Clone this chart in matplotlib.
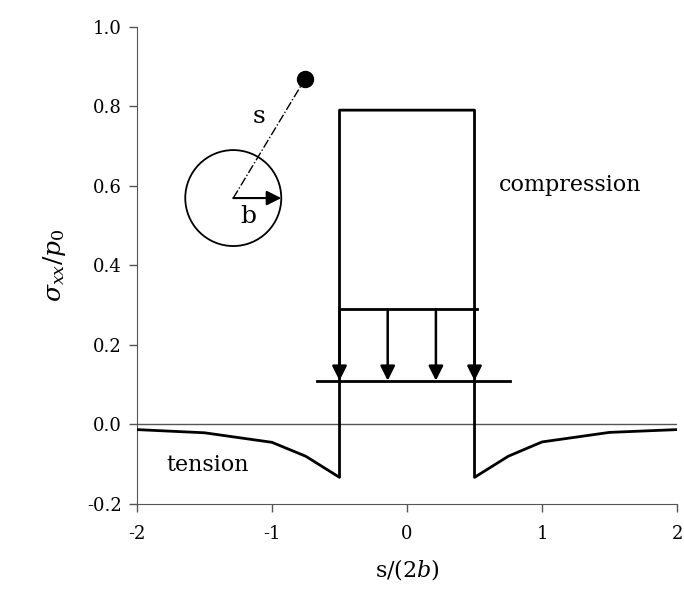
import numpy as np
import matplotlib
matplotlib.use('Agg')
import matplotlib.pyplot as plt
from matplotlib.patches import Ellipse

plt.rcParams['font.family'] = 'DejaVu Serif'
plt.rcParams['mathtext.fontset'] = 'dejavuserif'
plt.rcParams['axes.unicode_minus'] = False

# stress profile sigma_xx/p0 vs s/(2b)
s_norm = [-2, -1.5, -1.0, -0.75, -0.5, -0.5, 0.5, 0.5, 0.75, 1.0, 1.5, 2]
sigma = [-0.013, -0.021, -0.045, -0.080, -0.133, 0.79, 0.79, -0.133, -0.080, -0.044, -0.020, -0.013]

# load sketch
load_top = 0.29
load_base = 0.11
arrow_x = [-0.5, -0.143, 0.214, 0.5]
load_top_span = [-0.5, 0.52]
load_base_span = [-0.67, 0.76]

# inset sketch (hole + point)
hole_center = (-1.287, 0.569)
point = (-0.756, 0.868)

fig = plt.figure(figsize=(6.84, 5.99), dpi=100)
ax = fig.add_axes([0.2003, 0.1586, 0.7895, 0.797])

ax.axhline(0, color='#555555', lw=1.0, zorder=1)
ax.plot(s_norm, sigma, color='black', lw=2.0, zorder=3)

ax.plot(load_top_span, [load_top, load_top], color='black', lw=2.0)
ax.plot(load_base_span, [load_base, load_base], color='black', lw=2.0)
for xa in arrow_x:
    ax.annotate('', xy=(xa, load_base), xytext=(xa, load_top),
                arrowprops=dict(arrowstyle='-|>', color='black', lw=1.8,
                                mutation_scale=22, shrinkA=0, shrinkB=0))

# hole sketch
w = 96 / 135
h = 96 / 398
ax.add_patch(Ellipse(hole_center, w, h, fill=False, edgecolor='black', lw=1.3))
ax.plot([hole_center[0], point[0]], [hole_center[1], point[1]],
        color='black', lw=1.0, ls='-.')
ax.plot(point[0], point[1], 'o', color='black', ms=11.5)
ax.annotate('', xy=(hole_center[0] + w / 2, hole_center[1]), xytext=hole_center,
            arrowprops=dict(arrowstyle='-|>', color='black', lw=1.5,
                            mutation_scale=22, shrinkA=0, shrinkB=0))
ax.text(-1.096, 0.775, 's', fontsize=18, ha='center', va='center')
ax.text(-1.174, 0.522, 'b', fontsize=18, ha='center', va='center')

ax.text(1.207, 0.602, 'compression', fontsize=16, ha='center', va='center')
ax.text(-1.48, -0.101, 'tension', fontsize=16, ha='center', va='center')

ax.set_xlim(-2, 2)
ax.set_ylim(-0.2, 1.0)
ax.set_xticks([-2, -1, 0, 1, 2])
ax.set_yticks(np.arange(-0.2, 1.01, 0.2))
ax.yaxis.set_major_formatter(matplotlib.ticker.FormatStrFormatter('%.1f'))
ax.tick_params(direction='out', length=6, width=1, color='#555555', labelsize=13)
ax.tick_params(axis='y', pad=5)
ax.tick_params(axis='x', pad=9)
for sp in ['top', 'right']:
    ax.spines[sp].set_visible(False)
for sp in ['left', 'bottom']:
    ax.spines[sp].set_color('#555555')

ax.set_xlabel(r's/$(2b)$', fontsize=16, labelpad=10)
ax.set_ylabel(r'$\sigma_{xx}/p_0$', fontsize=18, labelpad=14)

fig.savefig('out.png', dpi=100)
